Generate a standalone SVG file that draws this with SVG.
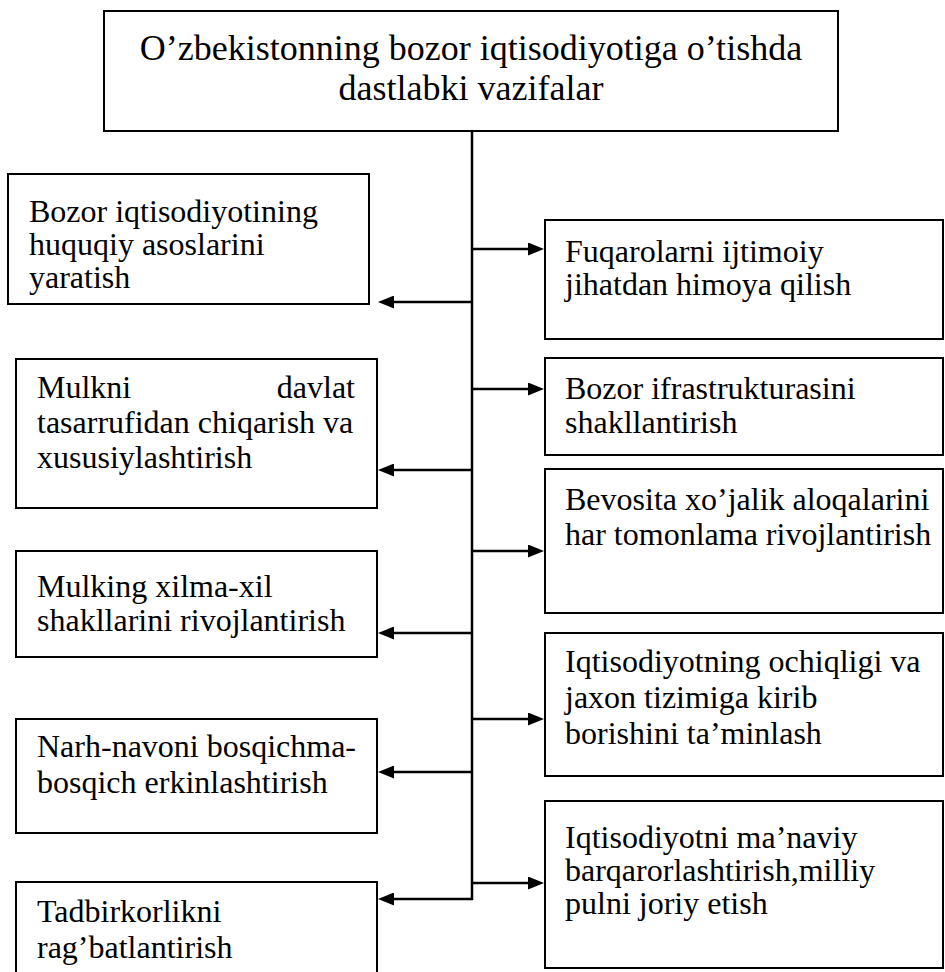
<svg xmlns="http://www.w3.org/2000/svg" width="945" height="972" viewBox="0 0 945 972">
<style>
.box{fill:#fff;stroke:#000;stroke-width:2}
.t{font-family:"Liberation Serif","Times New Roman",serif;font-size:32px;fill:#000}
.title{font-family:"Liberation Serif","Times New Roman",serif;font-size:36px;fill:#000;text-anchor:middle}
.c{stroke:#000;stroke-width:2.5;fill:none}
</style>
<defs>
<marker id="ah" markerUnits="userSpaceOnUse" markerWidth="16" markerHeight="13" refX="6" refY="6.5" orient="auto">
<path d="M0,0 L16,6.5 L0,13 Z" fill="#000"/>
</marker>
</defs>
<rect width="945" height="972" fill="#fff"/>
<g id="connectors">
<line class="c" x1="472" y1="131" x2="472" y2="900"/>
<line class="c" x1="472" y1="302" x2="388" y2="302" marker-end="url(#ah)"/>
<line class="c" x1="472" y1="470" x2="388" y2="470" marker-end="url(#ah)"/>
<line class="c" x1="472" y1="633" x2="388" y2="633" marker-end="url(#ah)"/>
<line class="c" x1="472" y1="772" x2="388" y2="772" marker-end="url(#ah)"/>
<line class="c" x1="473" y1="899" x2="388" y2="899" marker-end="url(#ah)"/>
<line class="c" x1="472" y1="249" x2="534" y2="249" marker-end="url(#ah)"/>
<line class="c" x1="472" y1="389" x2="534" y2="389" marker-end="url(#ah)"/>
<line class="c" x1="472" y1="551" x2="534" y2="551" marker-end="url(#ah)"/>
<line class="c" x1="472" y1="719" x2="534" y2="719" marker-end="url(#ah)"/>
<line class="c" x1="472" y1="883" x2="534" y2="883" marker-end="url(#ah)"/>
</g>
<g id="title">
<rect class="box" x="104" y="11" width="734" height="120"/>
<text class="title" x="471" y="60">O’zbekistonning bozor iqtisodiyotiga o’tishda</text>
<text class="title" x="471" y="100">dastlabki vazifalar</text>
</g>
<g id="left1">
<rect class="box" x="8" y="174" width="361" height="130"/>
<text class="t" x="29" y="222">Bozor iqtisodiyotining</text>
<text class="t" x="29" y="255">huquqiy asoslarini</text>
<text class="t" x="29" y="288">yaratish</text>
</g>
<g id="left2">
<rect class="box" x="16" y="359" width="361" height="149"/>
<text class="t" x="37" y="398">Mulkni</text>
<text class="t" x="355" y="398" text-anchor="end">davlat</text>
<text class="t" x="37" y="433">tasarrufidan chiqarish va</text>
<text class="t" x="37" y="468">xususiylashtirish</text>
</g>
<g id="left3">
<rect class="box" x="16" y="551" width="361" height="106"/>
<text class="t" x="37" y="597">Mulking xilma-xil</text>
<text class="t" x="37" y="631">shakllarini rivojlantirish</text>
</g>
<g id="left4">
<rect class="box" x="16" y="719" width="361" height="114"/>
<text class="t" x="37" y="757">Narh-navoni bosqichma-</text>
<text class="t" x="37" y="793">bosqich erkinlashtirish</text>
</g>
<g id="left5">
<rect class="box" x="16" y="882" width="361" height="110"/>
<text class="t" x="37" y="922">Tadbirkorlikni</text>
<text class="t" x="37" y="958">rag’batlantirish</text>
</g>
<g id="right1">
<rect class="box" x="545" y="220" width="398" height="119"/>
<text class="t" x="565" y="262">Fuqarolarni ijtimoiy</text>
<text class="t" x="565" y="295">jihatdan himoya qilish</text>
</g>
<g id="right2">
<rect class="box" x="545" y="358" width="398" height="97"/>
<text class="t" x="565" y="399">Bozor ifrastrukturasini</text>
<text class="t" x="565" y="433">shakllantirish</text>
</g>
<g id="right3">
<rect class="box" x="545" y="469" width="398" height="144"/>
<text class="t" x="565" y="510">Bevosita xo’jalik aloqalarini</text>
<text class="t" x="565" y="545">har tomonlama rivojlantirish</text>
</g>
<g id="right4">
<rect class="box" x="545" y="633" width="398" height="143"/>
<text class="t" x="565" y="672">Iqtisodiyotning ochiqligi va</text>
<text class="t" x="565" y="708">jaxon tizimiga kirib</text>
<text class="t" x="565" y="744">borishini ta’minlash</text>
</g>
<g id="right5">
<rect class="box" x="545" y="801" width="398" height="167"/>
<text class="t" x="565" y="848">Iqtisodiyotni ma’naviy</text>
<text class="t" x="565" y="881">barqarorlashtirish,milliy</text>
<text class="t" x="565" y="914">pulni joriy etish</text>
</g>
</svg>
